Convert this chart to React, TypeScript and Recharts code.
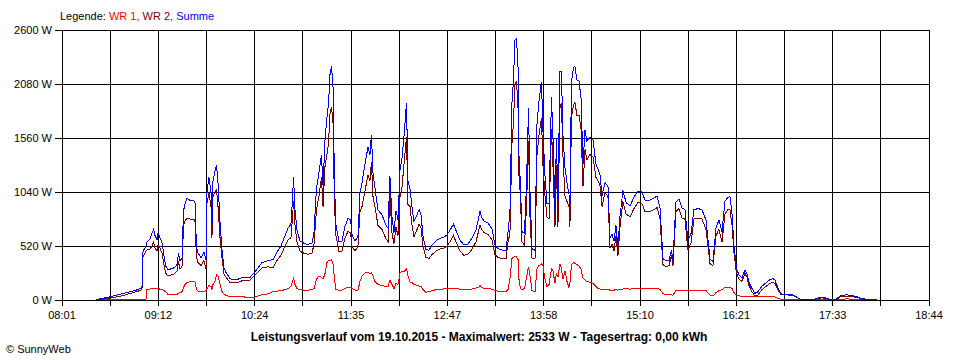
import { CartesianGrid, Line, LineChart, XAxis, YAxis } from "recharts";

// minutes since midnight
const times = [
  506.2, 515.1, 525.5, 537.4, 540.3, 541.1, 543.3, 544.0, 546.3, 547.7, 548.9, 550.0, 551.5, 552.2, 553.7, 555.2,
  556.6, 557.8, 559.6, 561.8, 564.1, 566.3, 567.4, 568.5, 570.0, 571.1, 572.2, 573.7, 575.9, 578.1, 579.6, 580.7,
  581.9, 584.1, 586.3, 587.8, 588.5, 590.0, 591.5, 592.2, 593.0, 594.5, 595.6, 596.7, 598.2, 599.7, 601.1, 602.6,
  605.6, 608.6, 611.5, 614.5, 617.5, 620.4, 624.1, 629.3, 633.8, 637.5, 640.4, 643.4, 646.4, 648.6, 650.8, 651.9,
  652.7, 653.8, 655.3, 657.5, 660.5, 663.4, 666.4, 667.9, 669.7, 671.6, 673.4, 674.6, 676.0, 677.5, 678.6, 679.8,
  680.9, 682.0, 683.1, 684.2, 686.4, 688.6, 690.9, 693.1, 695.0, 696.1, 698.3, 700.5, 702.0, 703.5, 705.7, 707.9,
  709.4, 710.5, 711.6, 713.1, 715.3, 718.3, 721.3, 722.8, 724.2, 725.7, 727.2, 728.7, 730.2, 731.7, 733.1, 734.6,
  736.5, 737.6, 739.1, 740.6, 742.0, 744.3, 745.8, 747.2, 748.7, 750.9, 753.2, 755.4, 758.4, 761.3, 764.3, 766.5,
  768.7, 771.3, 773.2, 776.2, 779.1, 782.1, 785.1, 788.0, 789.9, 791.0, 792.1, 794.0, 796.9, 799.9, 802.1, 804.3,
  807.3, 810.3, 811.8, 813.2, 814.7, 815.8, 816.9, 818.1, 819.2, 819.9, 821.0, 822.1, 824.0, 825.5, 827.0, 828.1,
  829.6, 831.8, 833.3, 834.7, 836.6, 837.7, 839.2, 840.7, 842.2, 844.0, 845.1, 846.6, 847.7, 848.8, 850.3, 851.4,
  852.5, 854.0, 855.5, 857.0, 857.7, 858.8, 860.3, 861.4, 862.9, 864.4, 865.9, 867.4, 868.9, 870.3, 872.6, 874.8,
  877.0, 878.5, 880.0, 881.5, 883.7, 885.9, 887.4, 888.9, 890.4, 891.8, 893.3, 894.8, 897.0, 899.3, 902.2, 905.2,
  908.2, 911.1, 913.4, 917.1, 920.0, 922.3, 924.5, 926.7, 928.9, 931.2, 933.0, 934.1, 936.3, 938.6, 940.8, 943.0,
  945.2, 947.5, 949.7, 952.7, 955.6, 958.6, 961.6, 963.8, 966.0, 968.2, 970.5, 972.7, 974.9, 976.4, 977.9, 979.4,
  981.2, 983.1, 985.3, 987.5, 989.0, 990.5, 992.7, 994.9, 997.2, 1000.1, 1003.1, 1006.1, 1008.3, 1009.8, 1012.0, 1014.2,
  1017.9, 1022.4, 1025.3, 1028.3, 1034.2, 1038.7, 1041.7, 1044.6, 1047.6, 1050.6, 1055.0, 1058.0, 1062.4, 1066.9, 1071.3, 1074.3,
  1080.2, 1085.4,
];

const wr1 = [
  0, 2, 4, 6, 6, 6, 6, 100, 105, 110, 110, 112, 110, 108, 105, 100,
  90, 80, 55, 50, 50, 55, 65, 70, 80, 120, 150, 170, 175, 175, 175, 100,
  85, 80, 80, 90, 110, 140, 130, 100, 150, 180, 240, 230, 150, 80, 60, 45,
  32, 30, 30, 30, 28, 26, 28, 50, 60, 80, 85, 90, 100, 110, 130, 180,
  210, 150, 110, 100, 95, 95, 100, 110, 200, 230, 220, 200, 250, 360, 380, 380,
  385, 350, 200, 100, 95, 95, 110, 125, 125, 110, 96, 96, 180, 230, 260, 270,
  250, 260, 230, 180, 150, 140, 130, 130, 190, 150, 110, 160, 150, 260, 280, 270,
  300, 230, 170, 170, 150, 140, 135, 130, 100, 75, 80, 90, 100, 105, 106, 106,
  110, 112, 110, 105, 100, 100, 105, 115, 120, 140, 120, 110, 110, 105, 90, 85,
  80, 80, 100, 200, 400, 410, 420, 415, 390, 200, 110, 100, 110, 220, 320, 230,
  90, 80, 300, 330, 350, 330, 200, 130, 150, 300, 280, 160, 260, 220, 350, 300,
  200, 280, 180, 120, 160, 340, 360, 355, 340, 330, 300, 210, 190, 180, 170, 160,
  130, 110, 105, 105, 100, 100, 95, 95, 95, 100, 95, 100, 105, 110, 105, 110,
  110, 112, 110, 112, 112, 110, 105, 60, 55, 50, 50, 45, 95, 95, 95, 90,
  90, 90, 90, 90, 90, 90, 45, 40, 70, 90, 100, 120, 120, 125, 110, 70,
  45, 40, 35, 32, 32, 32, 30, 30, 30, 32, 35, 38, 36, 30, 15, 8,
  7, 6, 5, 3, 2, 2, 4, 5, 4, 2, 2, 8, 10, 9, 6, 3,
  1, 0,
];

const wr2 = [
  0, 15, 40, 85, 100, 420, 470, 480, 490, 520, 560, 500, 470, 530, 500, 450,
  340, 260, 230, 240, 250, 280, 370, 300, 320, 720, 760, 790, 780, 780, 770, 420,
  360, 330, 380, 300, 930, 1030, 900, 600, 1000, 1040, 1060, 900, 600, 400, 250, 220,
  170, 165, 170, 185, 190, 192, 240, 310, 320, 310, 380, 430, 520, 580, 600, 780,
  950, 720, 560, 470, 450, 440, 450, 540, 870, 1000, 1180, 900, 1280, 1400, 1500, 1800,
  1860, 1700, 900, 620, 470, 470, 600, 660, 650, 520, 470, 520, 850, 900, 1050, 1200,
  1150, 1330, 1000, 900, 720, 680, 590, 560, 1000, 650, 540, 700, 620, 1000, 1080, 1300,
  1570, 920, 900, 720, 610, 680, 730, 700, 520, 410, 400, 440, 470, 490, 500, 520,
  560, 620, 560, 470, 430, 440, 490, 560, 660, 720, 680, 650, 630, 580, 440, 410,
  400, 400, 560, 640, 1500, 1700, 2080, 2100, 1850, 1200, 1000, 560, 530, 900, 1530, 800,
  400, 400, 1400, 1580, 1750, 1300, 1000, 800, 780, 1650, 1300, 700, 1300, 700, 1850, 1900,
  1400, 1000, 950, 900, 700, 1750, 1880, 1900, 1780, 1780, 1650, 1100, 1450, 1350, 1400, 1380,
  1180, 1150, 1100, 900, 1030, 1000, 500, 540, 470, 620, 420, 700, 950, 830, 800, 880,
  940, 930, 850, 850, 870, 890, 780, 340, 320, 330, 430, 330, 850, 880, 790, 780,
  480, 550, 780, 790, 780, 680, 350, 330, 620, 680, 560, 830, 870, 870, 720, 450,
  260, 200, 180, 255, 220, 140, 80, 35, 50, 100, 130, 160, 170, 160, 100, 50,
  50, 45, 30, 5, 4, 5, 15, 20, 15, 4, 3, 30, 38, 33, 22, 8,
  5, 0,
];

const summe = [
  5, 25, 60, 100, 118, 470, 520, 560, 590, 640, 680, 620, 580, 640, 600, 550,
  430, 330, 290, 300, 310, 340, 450, 380, 400, 860, 920, 980, 960, 960, 950, 520,
  450, 410, 460, 390, 1040, 1180, 1040, 700, 1150, 1240, 1300, 1130, 750, 480, 310, 265,
  205, 195, 200, 215, 218, 218, 270, 360, 380, 390, 460, 520, 620, 690, 730, 960,
  1180, 870, 670, 570, 545, 535, 550, 650, 1070, 1230, 1400, 1100, 1530, 1760, 1880, 2180,
  2250, 2050, 1100, 720, 565, 565, 710, 785, 775, 630, 565, 615, 1030, 1130, 1310, 1470,
  1400, 1590, 1230, 1080, 870, 820, 720, 690, 1190, 800, 650, 860, 770, 1260, 1360, 1570,
  1900, 1150, 1070, 890, 760, 820, 870, 830, 620, 485, 480, 530, 570, 595, 606, 626,
  670, 732, 670, 575, 530, 540, 595, 675, 780, 860, 800, 760, 740, 685, 530, 495,
  480, 480, 660, 840, 1900, 2110, 2500, 2515, 2240, 1400, 1110, 660, 640, 1120, 1850, 1030,
  490, 480, 1700, 1910, 2100, 1630, 1200, 930, 930, 1950, 1580, 860, 1560, 920, 2200, 2200,
  1600, 1280, 1130, 1020, 860, 2090, 2240, 2250, 2120, 2110, 1950, 1310, 1640, 1530, 1570, 1540,
  1310, 1260, 1205, 1005, 1130, 1100, 595, 635, 565, 720, 515, 800, 1055, 940, 905, 990,
  1050, 1042, 960, 962, 982, 1000, 885, 400, 375, 380, 480, 375, 945, 975, 885, 870,
  570, 640, 870, 880, 870, 770, 395, 370, 690, 770, 660, 950, 990, 995, 830, 520,
  305, 240, 215, 287, 250, 170, 110, 65, 80, 132, 165, 198, 206, 190, 115, 58,
  57, 51, 35, 8, 6, 7, 20, 25, 19, 6, 5, 40, 50, 44, 30, 12,
  6, 0,
];

const tickLabels = ["08:01", "09:12", "10:24", "11:35", "12:47", "13:58", "15:10", "16:21", "17:33", "18:44"];
const yTicks = [0, 520, 1040, 1560, 2080, 2600];

const data = times.map((t, i) => ({ t, wr1: wr1[i], wr2: wr2[i], summe: summe[i] }));

// grid every half step between labelled ticks
const xStart = 481;
const xEnd = 1124;
const xTicks = Array.from({ length: 19 }, (_, i) => xStart + (i * (xEnd - xStart)) / 18);

const font = "'Liberation Sans', Arial, sans-serif";

export default function App() {
  return (
    <div
      style={{
        position: "absolute",
        left: 0,
        top: 0,
        width: 960,
        height: 360,
        background: "#fff",
        fontFamily: font,
        fontSize: 11,
        color: "#000",
      }}
    >
      <div style={{ position: "absolute", left: 60, top: 10, lineHeight: "13px", whiteSpace: "nowrap" }}>
        Legende: <span style={{ color: "#ff0000" }}>WR 1,</span>{" "}
        <span style={{ color: "#800000" }}>WR 2,</span> <span style={{ color: "#0000ff" }}>Summe</span>
      </div>
      <div style={{ position: "absolute", left: 0, top: 0 }}>
        <LineChart width={960} height={330} data={data} margin={{ top: 30, right: 31, bottom: 6, left: 0 }}>
          <CartesianGrid stroke="#000" strokeWidth={1} shapeRendering="crispEdges" />
          <XAxis
            type="number"
            dataKey="t"
            domain={[xStart, xEnd]}
            ticks={xTicks}
            interval={0}
            height={24}
            tickSize={6}
            tickMargin={5}
            tickFormatter={(_v: number, i: number) => (i % 2 === 0 ? tickLabels[i / 2] : "")}
            tick={{ fill: "#000", fontSize: 11, fontFamily: font }}
            stroke="#000"
            shapeRendering="crispEdges"
          />
          <YAxis
            type="number"
            domain={[0, 2600]}
            ticks={yTicks}
            interval={0}
            width={62}
            tickSize={7}
            tickMargin={3}
            tickFormatter={(v: number) => `${v} W`}
            tick={{ fill: "#000", fontSize: 11, fontFamily: font }}
            stroke="#000"
            shapeRendering="crispEdges"
          />
          <Line dataKey="wr1" stroke="#ff0000" strokeWidth={1} dot={false} isAnimationActive={false} type="linear" shapeRendering="crispEdges" />
          <Line dataKey="wr2" stroke="#800000" strokeWidth={1} dot={false} isAnimationActive={false} type="linear" shapeRendering="crispEdges" />
          <Line dataKey="summe" stroke="#0000ff" strokeWidth={1} dot={false} isAnimationActive={false} type="linear" shapeRendering="crispEdges" />
        </LineChart>
      </div>
      <div
        style={{
          position: "absolute",
          left: 0,
          width: 958,
          top: 330,
          textAlign: "center",
          fontWeight: "bold",
          fontSize: 12,
          lineHeight: "14px",
        }}
      >
        Leistungsverlauf vom 19.10.2015 - Maximalwert: 2533 W - Tagesertrag: 0,00 kWh
      </div>
      <div style={{ position: "absolute", left: 6, top: 342, lineHeight: "14px" }}>© SunnyWeb</div>
    </div>
  );
}
